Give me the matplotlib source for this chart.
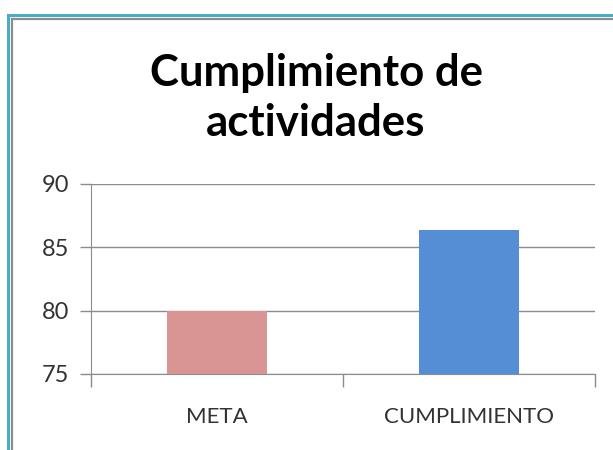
import matplotlib
matplotlib.use("Agg")
import matplotlib.pyplot as plt
from matplotlib.lines import Line2D

categories = ["META", "CUMPLIMIENTO"]
values = [80, 86.4]
colors = ["#D99594", "#558ED5"]
yticks = [75, 80, 85, 90]
title = "Cumplimiento de\nactividades"

W, H = 613, 450
fig = plt.figure(figsize=(W/100, H/100), dpi=100)
fig.patch.set_facecolor("white")

FONT = ["Lato", "DejaVu Sans"]

def fx(x): return x / W
def fy(y): return 1 - y / H
fig.add_artist(Line2D([fx(8), fx(8)], [fy(15), 0], color="#4BACC6", lw=2.2))
fig.add_artist(Line2D([fx(8), 1], [fy(15), fy(15)], color="#4BACC6", lw=2.2))
fig.add_artist(Line2D([fx(11.5), fx(11.5)], [fy(18.5), 0], color="#8C8C8C", lw=1.6))
fig.add_artist(Line2D([fx(11.5), 1], [fy(18.5), fy(18.5)], color="#8C8C8C", lw=1.6))

left, right, top, bottom = 91, 595, 184, 374
ax = fig.add_axes([fx(left), fy(bottom), (right-left)/W, (bottom-top)/H])
x = list(range(len(categories)))
ax.bar(x, values, width=0.4, color=colors, zorder=3)
ax.set_xlim(-0.5, 1.5)
ax.set_ylim(75, 90)
ax.set_yticks(yticks)
ax.yaxis.grid(True, color="#8C8C8C", lw=1.0, zorder=0)
ax.set_axisbelow(True)
for s in ["top", "right"]:
    ax.spines[s].set_visible(False)
ax.spines["left"].set_color("#8C8C8C")
ax.spines["bottom"].set_color("#8C8C8C")
ax.set_xticks([-0.5, 0.5, 1.5], minor=False)
ax.set_xticklabels(["", "", ""])
ax.set_xticks(x, minor=True)
ax.set_xticklabels(categories, minor=True)
ax.tick_params(axis="x", which="major", length=9, color="#8C8C8C", width=1)
ax.tick_params(axis="x", which="minor", length=0, pad=24, labelsize=16, labelcolor="#333333")
ax.tick_params(axis="y", length=8, color="#8C8C8C", width=1, labelsize=17, labelcolor="#333333", pad=8)
for lab in ax.get_xticklabels(minor=True) + ax.get_yticklabels():
    lab.set_family(FONT)

fig.text(fx(316), fy(98), title, ha="center", va="center", fontsize=31.5,
         fontweight="bold", family=FONT, linespacing=1.3, color="black")

fig.savefig("out.png", dpi=100, facecolor="white")
